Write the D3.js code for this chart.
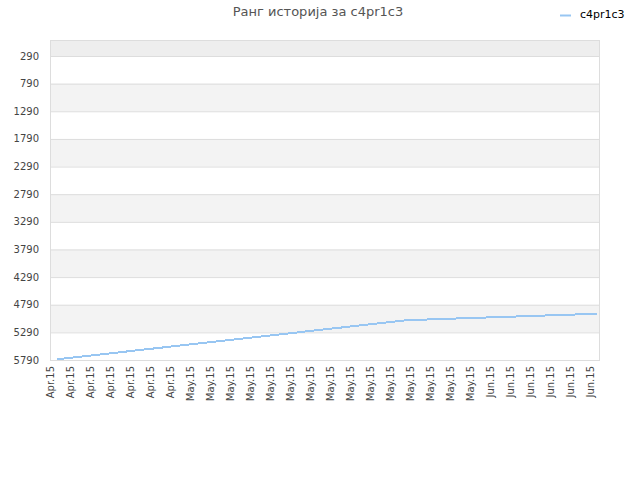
<!DOCTYPE html>
<html><head><meta charset="utf-8">
<script src="https://cdn.jsdelivr.net/npm/d3@7"></script>
<style>body{margin:0;background:#fff;font-family:"DejaVu Sans",sans-serif;}</style>
</head><body><svg id="c" width="640" height="480"></svg>
<script>
const title = "Ранг историја за c4pr1c3";
const seriesName = "c4pr1c3";
const xLabels = ["Apr.15","Apr.15","Apr.15","Apr.15","Apr.15","Apr.15","Apr.15",
  "May.15","May.15","May.15","May.15","May.15","May.15","May.15","May.15","May.15","May.15","May.15","May.15","May.15","May.15","May.15",
  "Jun.15","Jun.15","Jun.15","Jun.15","Jun.15","Jun.15"];
const yTicks = [290,790,1290,1790,2290,2790,3290,3790,4290,4790,5290,5790];
// daily rank values (day index -> rank)
const days = d3.range(61);
const ranks = [5777,5759,5741,5722,5704,5686,5668,5650,5631,5613,5595,5577,5559,5540,5522,5504,
  5486,5468,5449,5431,5413,5395,5377,5358,5340,5322,5304,5286,5267,5249,5231,5213,5195,5176,
  5158,5140,5122,5104,5085,5068,5063,5058,5052,5047,5041,5036,5030,5025,5019,5014,5008,5003,
  4997,4992,4986,4981,4975,4970,4964,4959,4953];

const svg = d3.select("#c");
const L = 50, R = 600, T = 40, B = 360;
const y = d3.scaleLinear().domain([0, 5790]).range([T, B]);
// label index scale
const xl = d3.scaleLinear().domain([0, xLabels.length - 1]).range([L, 590]);
// day scale
const xd = d3.scaleLinear().domain([0, 60]).range([57, 597]);

const g = svg.append("g");
// bands
const bandEdges = [0].concat(yTicks);
for (let i = 0; i < bandEdges.length - 1; i++) {
  if (i % 2 === 0) {
    g.append("rect").attr("x", L).attr("width", R - L)
      .attr("y", y(bandEdges[i])).attr("height", y(bandEdges[i+1]) - y(bandEdges[i]))
      .attr("fill", i === 0 ? "#eeeeee" : "#f3f3f3");
  }
}
// grid
g.selectAll("line.grid").data(yTicks).join("line")
  .attr("x1", L).attr("x2", R).attr("y1", d => y(d) + 0.5).attr("y2", d => y(d) + 0.5)
  .attr("stroke", "#dddddd").attr("stroke-width", 1);
// border
g.append("rect").attr("x", L + 0.5).attr("y", T + 0.5).attr("width", R - L - 1).attr("height", B - T)
  .attr("fill", "none").attr("stroke", "#dddddd");

// y labels
g.selectAll("text.yl").data(yTicks).join("text")
  .attr("x", 39).attr("y", d => y(d)).attr("dy", "0.35em")
  .attr("text-anchor", "end").attr("font-size", 10).attr("fill", "#444")
  .text(d => d);

// x labels
g.selectAll("text.xl").data(xLabels).join("text")
  .attr("transform", (d, i) => `translate(${xl(i)},366) rotate(-90)`)
  .attr("dy", "0.35em").attr("text-anchor", "end")
  .attr("font-size", 10).attr("fill", "#444").text(d => d);

// line
const line = d3.line().x((d, i) => xd(days[i])).y(d => y(d));
g.append("path").datum(ranks).attr("d", line)
  .attr("fill", "none").attr("stroke", "#98c6f2").attr("stroke-width", 2)
  .attr("shape-rendering", "crispEdges");

// title
svg.append("text").attr("x", 318).attr("y", 16).attr("text-anchor", "middle")
  .attr("font-size", 13).attr("fill", "#555").text(title);
// legend
svg.append("line").attr("x1", 560).attr("x2", 571).attr("y1", 15.5).attr("y2", 15.5)
  .attr("stroke", "#98c6f2").attr("stroke-width", 2);
svg.append("text").attr("x", 580).attr("y", 18).attr("font-size", 11).attr("fill", "#000").text(seriesName);
</script></body></html>
